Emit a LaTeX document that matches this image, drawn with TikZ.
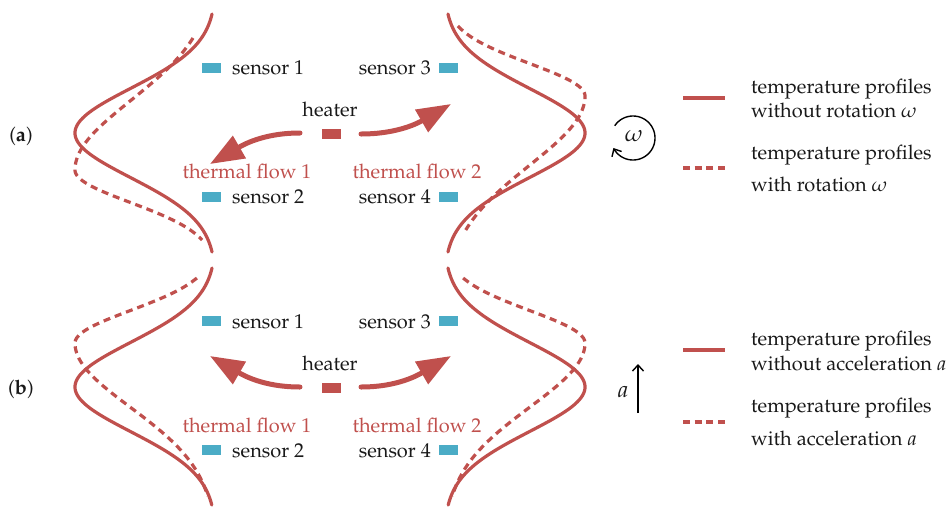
\documentclass[tikz,border=0pt]{standalone}
\usepackage[T1]{fontenc}
\usepackage{mathpazo}
\usetikzlibrary{arrows.meta}
\definecolor{flowred}{RGB}{192,80,77}
\definecolor{sensorblue}{RGB}{75,172,198}
\definecolor{inkblack}{RGB}{25,25,25}

\tikzset{
  txt/.style={font=\fontsize{20}{24}\selectfont, text=inkblack, inner sep=0pt},
  symtxt/.style={font=\fontsize{23}{27}\selectfont, text=inkblack, inner sep=0pt},
  redtxt/.style={txt, text=flowred},
  profile/.style={draw=flowred, line width=3.2pt, line cap=round},
  profdash/.style={draw=flowred, line width=3.2pt, dash pattern=on 7pt off 5pt},
  flowarrow/.style={draw=flowred, line width=5pt, line cap=round,
    -{Triangle[length=34pt,width=25pt]}},
  sensorbox/.style={fill=sensorblue, minimum width=19pt, minimum height=10pt, inner sep=0pt},
  heaterbox/.style={fill=flowred, minimum width=19pt, minimum height=10pt, inner sep=0pt},
  thinarrow/.style={draw=black, line width=1.4pt, -{Straight Barb[length=6pt,width=11pt]}},
}

\begin{document}
\begin{tikzpicture}[x=1pt, y=-1pt,
  declare function={
    gs(\u,\s)=exp(-(\u/\s)*(\u/\s));
    dg(\u,\a,\b)=ifthenelse(\u<0, gs(\u,\a), gs(\u,\b));
  }]
\useasboundingbox (0,0) rectangle (951,507);

% ---------------- panel (a): rotation ----------------
\node[txt, anchor=base] (labA) at (21,141) {(\textbf{a})};

% temperature profiles
\draw[profile] plot[domain=14:252, samples=120, variable=\t]
  ({216-141*gs(\t-133,63)}, \t);
\draw[profdash] plot[domain=38:240, samples=120, variable=\t]
  ({216-141*dg(\t-170,98,46)}, \t);
\draw[profile] plot[domain=14:252, samples=120, variable=\t]
  ({444+141*gs(\t-133,63)}, \t);
\draw[profdash] plot[domain=26:230, samples=120, variable=\t]
  ({444+141*dg(\t-96,46,98)}, \t);

% sensors and heater
\node[sensorbox] (sA1) at (211.5,68) {};
\node[sensorbox] (sA2) at (211.5,197) {};
\node[sensorbox] (sA3) at (448.5,68) {};
\node[sensorbox] (sA4) at (448.5,197) {};
\node[txt, anchor=base west] (tA1) at (232,74) {sensor 1};
\node[txt, anchor=base west] (tA2) at (232,203) {sensor 2};
\node[txt, anchor=base east] (tA3) at (431,74) {sensor 3};
\node[txt, anchor=base east] (tA4) at (431,203) {sensor 4};
\node[heaterbox] (hA) at (331,134) {};
\node[txt, anchor=base] (hAt) at (330,116) {heater};

% thermal flows (to-path angles are screen directions)
\coordinate (fA1s) at (300,133);
\coordinate (fA1e) at (210,164);
\coordinate (fA2s) at (361,134);
\coordinate (fA2e) at (451,104);
\draw[flowarrow] (fA1s) to[out=180, in=30] (fA1e);
\draw[flowarrow] (fA2s) to[out=0, in=210] (fA2e);
\node[redtxt, anchor=base] (fA1t) at (247,178) {thermal flow 1};
\node[redtxt, anchor=base] (fA2t) at (417,178) {thermal flow 2};

% rotation symbol
\node[symtxt] (omg) at (634,136) {$\omega$};
\draw[thinarrow] plot[domain=-146:153, samples=80, variable=\a]
  ({633+22*cos(\a)}, {138+22*sin(\a)});

% legend
\coordinate (lA1s) at (683,98);  \coordinate (lA1e) at (725,98);
\coordinate (lA2s) at (683,168); \coordinate (lA2e) at (725,168);
\draw[profile, line cap=butt] (lA1s) -- (lA1e);
\draw[profdash, dash pattern=on 7pt off 4.7pt] (lA2s) -- (lA2e);
\node[txt, anchor=base west] (gA1) at (751,93) {temperature profiles};
\node[txt, anchor=base west] (gA2) at (751,117) {without rotation $\omega$};
\node[txt, anchor=base west] (gA3) at (751,159) {temperature profiles};
\node[txt, anchor=base west] (gA4) at (751,191) {with rotation $\omega$};

% ---------------- panel (b): acceleration ----------------
\node[txt, anchor=base] (labB) at (21,394) {(\textbf{b})};

\draw[profile] plot[domain=268:505, samples=120, variable=\t]
  ({216-141*gs(\t-387,63)}, \t);
\draw[profdash] plot[domain=278:496, samples=120, variable=\t]
  ({216-141*dg(\t-343,46,91)}, \t);
\draw[profile] plot[domain=268:505, samples=120, variable=\t]
  ({444+141*gs(\t-387,63)}, \t);
\draw[profdash] plot[domain=278:496, samples=120, variable=\t]
  ({444+141*dg(\t-343,46,91)}, \t);

\node[sensorbox] (sB1) at (211.5,321) {};
\node[sensorbox] (sB2) at (211.5,450) {};
\node[sensorbox] (sB3) at (448.5,321) {};
\node[sensorbox] (sB4) at (448.5,450) {};
\node[txt, anchor=base west] (tB1) at (232,328) {sensor 1};
\node[txt, anchor=base west] (tB2) at (232,457) {sensor 2};
\node[txt, anchor=base east] (tB3) at (431,328) {sensor 3};
\node[txt, anchor=base east] (tB4) at (431,457) {sensor 4};
\node[heaterbox] (hB) at (331,388) {};
\node[txt, anchor=base] (hBt) at (330,370) {heater};

\coordinate (fB1s) at (300,387);
\coordinate (fB1e) at (210,356);
\coordinate (fB2s) at (361,387);
\coordinate (fB2e) at (451,356);
\draw[flowarrow] (fB1s) to[out=180, in=-30] (fB1e);
\draw[flowarrow] (fB2s) to[out=0, in=-150] (fB2e);
\node[redtxt, anchor=base] (fB1t) at (247,432) {thermal flow 1};
\node[redtxt, anchor=base] (fB2t) at (417,432) {thermal flow 2};

% acceleration symbol
\coordinate (accS) at (638,413);
\coordinate (accE) at (638,364);
\draw[thinarrow] (accS) -- (accE);
\node[symtxt] (acc) at (623,392) {$a$};

\coordinate (lB1s) at (683,350); \coordinate (lB1e) at (725,350);
\coordinate (lB2s) at (683,422); \coordinate (lB2e) at (725,422);
\draw[profile, line cap=butt] (lB1s) -- (lB1e);
\draw[profdash, dash pattern=on 7pt off 4.7pt] (lB2s) -- (lB2e);
\node[txt, anchor=base west] (gB1) at (751,345) {temperature profiles};
\node[txt, anchor=base west] (gB2) at (751,370) {without acceleration $a$};
\node[txt, anchor=base west] (gB3) at (751,412) {temperature profiles};
\node[txt, anchor=base west] (gB4) at (751,445) {with acceleration $a$};
\end{tikzpicture}
\end{document}
